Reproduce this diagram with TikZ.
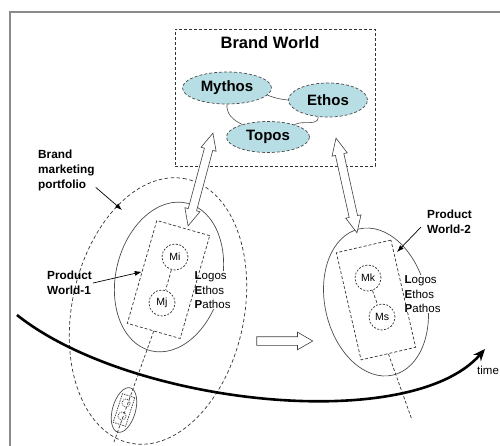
\documentclass[tikz,border=0pt]{standalone}
\usepackage{fontspec}
\setmainfont{Liberation Sans}
\usepackage{tikz}
\usetikzlibrary{shapes, arrows.meta, positioning, calc}

\definecolor{bwfill}{RGB}{183,222,228}
\definecolor{framegray}{RGB}{138,138,138}

\begin{document}
\begin{tikzpicture}[
    x=1pt, y=-1pt,
    outerframe/.style={
        draw=framegray,
        line width=1.4pt
    },
    dashbox/.style={
        rectangle,
        draw=black!80,
        dash pattern=on 3pt off 2pt,
        line width=0.7pt,
        inner sep=0pt
    },
    myth/.style={
        ellipse,
        draw=black!70,
        dash pattern=on 3pt off 2pt,
        line width=0.7pt,
        fill=bwfill,
        inner sep=0pt,
        font=\fontsize{15}{18}\selectfont\bfseries
    },
    world/.style={
        ellipse,
        draw=black!70,
        line width=0.7pt,
        inner sep=0pt
    },
    portfoliobound/.style={
        ellipse,
        draw=black!80,
        dash pattern=on 3.5pt off 2.5pt,
        line width=0.7pt,
        inner sep=0pt
    },
    member/.style={
        circle,
        draw=black!80,
        dash pattern=on 2pt off 1.5pt,
        line width=0.7pt,
        minimum size=26pt,
        inner sep=0pt,
        font=\fontsize{10.5}{12}\selectfont
    },
    note/.style={
        align=left,
        inner sep=1pt,
        font=\fontsize{11.8}{15}\selectfont\bfseries
    },
    rhetoric/.style={
        align=left,
        fill=white,
        inner sep=0.5pt,
        font=\fontsize{11.5}{14.5}\selectfont
    },
    link/.style={
        draw=black!70,
        line width=0.6pt
    },
    spine/.style={
        draw=black!80,
        dash pattern=on 3pt off 2pt,
        line width=0.7pt
    },
    pointer/.style={
        draw,
        line width=0.7pt,
        -{Latex[length=7pt, width=5pt]}
    },
    twoway/.style={
        double arrow,
        draw=black!75,
        fill=white,
        line width=0.6pt,
        inner xsep=0pt,
        inner ysep=4pt,
        double arrow head extend=3.5pt,
        double arrow tip angle=50
    },
    oneway/.style={
        single arrow,
        draw=black!75,
        fill=white,
        line width=0.6pt,
        inner xsep=0pt,
        inner ysep=4pt,
        minimum height=56pt,
        single arrow head extend=4.5pt,
        single arrow tip angle=60
    },
    timeline/.style={
        draw,
        line width=2.6pt,
        -{Stealth[length=12pt, width=10pt]}
    }
]
\useasboundingbox (0,0) rectangle (500,446);

% Frame
\path [outerframe] (10,446) -- (10,12) -- (500,12);

% Brand world
\node [dashbox, minimum width=200pt, minimum height=137pt] (bworld) at (275,97.5) {};
\node [font=\fontsize{16.5}{20}\selectfont\bfseries] (bwtitle) at (270,43) {Brand World};
\node [myth, minimum width=89pt, minimum height=32pt] (mythos) at (227,88) {Mythos};
\node [myth, minimum width=79pt, minimum height=34pt] (ethos) at (328,100) {Ethos};
\node [myth, minimum width=83pt, minimum height=31pt] (topos) at (268,137) {Topos};
\path [link] (mythos.-10) to[bend right=8] (ethos.west);
\path [link] (mythos.south) to[out=-95, in=155] (topos.154);
\path [link] (ethos.-120) to[out=-90, in=30] (topos.25);

% Product worlds
\node [world, minimum width=152pt, minimum height=106pt, rotate=76] (pw1) at (169,277) {};
\node [world, minimum width=150pt, minimum height=102pt, rotate=103] (pw2) at (376,302) {};
\node [world, minimum width=46pt, minimum height=23pt, rotate=74] (pw0) at (124,410) {};
\node [rhetoric, anchor=north west] (lep1) at (194,271) {\textbf{L}ogos\\\textbf{E}thos\\\textbf{P}athos};
\node [rhetoric, anchor=north west] (lep2) at (404,275) {\textbf{L}ogos\\\textbf{E}thos\\\textbf{P}athos};
\node [portfoliobound, minimum width=270pt, minimum height=172pt, rotate=78] (portfolio) at (158,311) {};

\node [dashbox, minimum width=55pt, minimum height=107pt, rotate=-16] (box1) at (168.5,279.5) {};
\node [dashbox, minimum width=56pt, minimum height=110pt, rotate=13] (box2) at (376,300) {};
\node [dashbox, dash pattern=on 1.5pt off 1pt, minimum width=13pt, minimum height=30pt, rotate=-18] (box0) at (124,410) {};

\node [member] (mi) at (175,257) {Mi};
\node [member] (mj) at (162,303) {Mj};
\node [member] (mk) at (368,278) {Mk};
\node [member] (ms) at (382,317) {Ms};
\node [member, minimum size=8pt, dash pattern=on 1pt off 1pt] (mi0) at (126,403) {};
\node [member, minimum size=8pt, dash pattern=on 1pt off 1pt] (mj0) at (122,416) {};

\coordinate (tail1) at (114,442);
\coordinate (tail2) at (412,420);
\path [spine] (mi) -- (mj);
\path [spine] (mk) -- (ms);
\path [spine] (box1.south) -- (tail1);
\path [spine] (box2.south) -- (tail2);

% Links to the brand world
\node [twoway, minimum height=96pt, rotate=75] (bw1) at (200.5,179.5) {};
\node [twoway, minimum height=97pt, rotate=-77.5] (bw2) at (346.5,185.5) {};
\node [oneway] (shift) at (281,341) {};

% Labels
\node [note, anchor=north west] (bmp) at (37,149) {Brand\\marketing\\portfolio};
\coordinate (bmptip) at (122,210);
\path [pointer] ([yshift=5pt]bmp.south east) -- (bmptip);
\node [note, anchor=north west] (pw1label) at (46,270) {Product\\World-1};
\path [pointer] (pw1label.east) -- (box1.west);
\node [note, anchor=north west] (pw2label) at (426,209) {Product\\World-2};
\coordinate (pw2tip) at (397,252);
\path [pointer] ($(pw2label.south west)+(-5,-8)$) -- (pw2tip);

% Time
\coordinate (tstart) at (17,315);
\coordinate (tend) at (485,349);
\path [timeline] (tstart) .. controls (130,405) and (410,435) .. (tend);
\node [anchor=west, inner sep=0pt, font=\fontsize{11.5}{14}\selectfont] (timelabel) at (477,370) {time};

\end{tikzpicture}
\end{document}
